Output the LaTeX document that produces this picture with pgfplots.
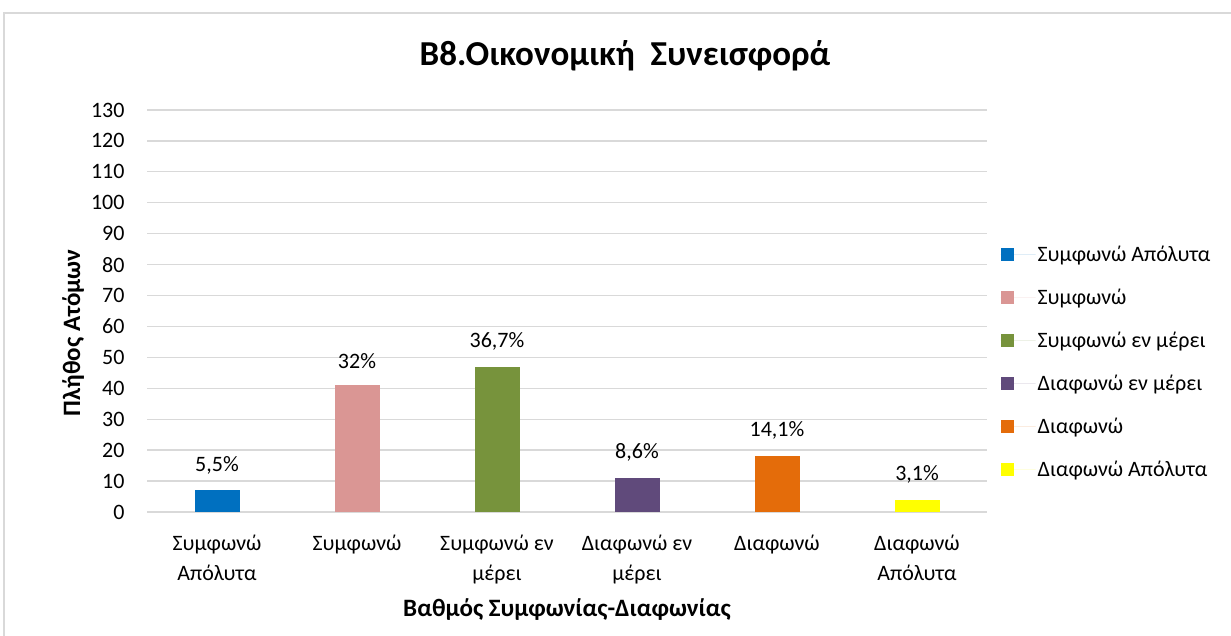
\documentclass[border=0pt]{standalone}
\usepackage{fontspec}
\setmainfont{Carlito}
\usepackage{pgfplots}
\pgfplotsset{compat=1.18}
\definecolor{c1}{HTML}{0070C0}
\definecolor{c2}{HTML}{DA9694}
\definecolor{c3}{HTML}{77933C}
\definecolor{c4}{HTML}{604A7B}
\definecolor{c5}{HTML}{E46C0A}
\definecolor{c6}{HTML}{FFFF00}
\definecolor{gridc}{HTML}{D9D9D9}
\begin{document}
\begin{tikzpicture}
\path[use as bounding box] (0pt,0pt) rectangle (1231pt,636pt);
\fill[white] (0pt,0pt) rectangle (1231pt,636pt);
\draw[gridc,line width=1.5pt] (4pt,-10pt) rectangle (1245pt,623pt);
\node[font=\fontsize{35}{40}\selectfont\bfseries] at (625pt,580pt) {B8.Οικονομική\ \ Συνεισφορά};
\begin{axis}[
  at={(147pt,124pt)}, anchor=south west,
  scale only axis, width=840pt, height=402pt,
  xmin=-0.5, xmax=5.5, ymin=0, ymax=130,
  ytick={0,10,...,130},
  xtick={0,1,2,3,4,5},
  xticklabels={{Συμφωνώ\\Απόλυτα},{Συμφωνώ},{Συμφωνώ εν\\μέρει},{Διαφωνώ εν\\μέρει},{Διαφωνώ},{Διαφωνώ\\Απόλυτα}},
  xticklabel style={align=center, font=\fontsize{22}{30}\selectfont, anchor=north, yshift=-19pt},
  yticklabel style={font=\fontsize{22}{26}\selectfont, xshift=-19pt},
  /pgf/number format/assume math mode=true,
  major tick length=0pt,
  axis line style={draw=none},
  ymajorgrids, grid style={gridc, line width=1.3pt},
  ybar, bar width=45pt, bar shift=0pt,
  ylabel={\bfseries Πλήθος Ατόμων},
  ylabel style={font=\fontsize{25}{30}\selectfont, xshift=-22pt},
  xlabel={\bfseries Βαθμός Συμφωνίας-Διαφωνίας},
  xlabel style={font=\fontsize{25}{30}\selectfont, yshift=-8pt},
  nodes near coords, point meta=explicit symbolic,
  every node near coord/.append style={font=\fontsize{22}{26}\selectfont, anchor=south, yshift=13pt},
  legend style={at={(1.016,0.667)}, anchor=north west, draw=none, fill=none,
    font=\fontsize{22}{26}\selectfont, row sep=22pt, inner sep=0pt},
  legend cell align=left,
  legend image code/.code={\fill[#1,draw=none] (0pt,-6pt) rectangle (13pt,7pt); \path (0pt,0pt) -- (35pt,0pt);},
]
\addplot[fill=c1, draw=none] coordinates {(0,7) [5,5\%]};
\addplot[fill=c2, draw=none] coordinates {(1,41) [32\%]};
\addplot[fill=c3, draw=none] coordinates {(2,47) [36,7\%]};
\addplot[fill=c4, draw=none] coordinates {(3,11) [8,6\%]};
\addplot[fill=c5, draw=none] coordinates {(4,18) [14,1\%]};
\addplot[fill=c6, draw=none] coordinates {(5,4) [3,1\%]};
\legend{Συμφωνώ Απόλυτα, Συμφωνώ, Συμφωνώ εν μέρει, Διαφωνώ εν μέρει, Διαφωνώ, Διαφωνώ Απόλυτα}
\end{axis}
\end{tikzpicture}
\end{document}
